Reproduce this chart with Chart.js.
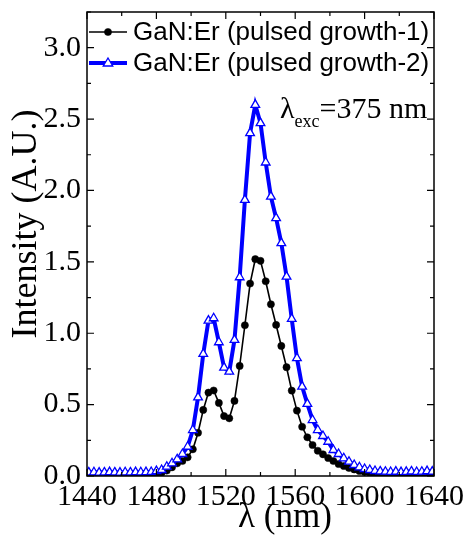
<!DOCTYPE html>
<html>
<head>
<meta charset="utf-8">
<script src="https://cdn.jsdelivr.net/npm/chart.js@4/dist/chart.umd.min.js"></script>
<style>
  body { margin: 0; background: #fff; }
  canvas { display: block; }
</style>
</head>
<body>
<canvas id="plChart" width="464" height="537"></canvas>
<script>
// Longueurs d'onde (nm)
const wavelengths = [1441, 1444, 1447, 1450, 1453, 1456, 1459, 1462, 1465, 1468, 1471, 1474, 1477, 1480,
  1483, 1486, 1489, 1492, 1495, 1498, 1501, 1504, 1507, 1510, 1513, 1516, 1519, 1522, 1525, 1528,
  1531, 1534, 1537, 1540, 1543, 1546, 1549, 1552, 1555, 1558, 1561, 1564, 1567, 1570, 1573, 1576,
  1579, 1582, 1585, 1588, 1591, 1594, 1597, 1600, 1603, 1606, 1609, 1612, 1615, 1618, 1621, 1624,
  1627, 1630, 1633, 1636, 1639];

// Intensité - croissance pulsée 1
const growth1 = [0.005, 0.006, 0.004, 0.005, 0.006, 0.005, 0.004, 0.006, 0.005, 0.007, 0.006, 0.007, 0.008, 0.012,
  0.023, 0.038, 0.061, 0.089, 0.105, 0.131, 0.187, 0.303, 0.463, 0.584, 0.599, 0.512, 0.420, 0.404, 0.526, 0.771,
  1.056, 1.348, 1.519, 1.507, 1.364, 1.203, 1.058, 0.911, 0.762, 0.598, 0.458, 0.345, 0.271, 0.217, 0.177, 0.152,
  0.126, 0.105, 0.084, 0.070, 0.056, 0.046, 0.035, 0.028, 0.021, 0.014, 0.010, 0.008, 0.007, 0.006, 0.006, 0.005,
  0.005, 0.004, 0.004, 0.004, 0.003];

// Intensité - croissance pulsée 2
const growth2 = [0.025, 0.026, 0.024, 0.025, 0.027, 0.025, 0.024, 0.026, 0.025, 0.027, 0.026, 0.027, 0.028, 0.034,
  0.042, 0.065, 0.089, 0.117, 0.154, 0.205, 0.322, 0.551, 0.855, 1.088, 1.105, 0.937, 0.759, 0.731, 0.953, 1.392,
  1.934, 2.402, 2.600, 2.472, 2.196, 1.957, 1.806, 1.631, 1.397, 1.100, 0.825, 0.626, 0.505, 0.392, 0.322, 0.280,
  0.240, 0.182, 0.154, 0.124, 0.100, 0.077, 0.061, 0.049, 0.042, 0.035, 0.032, 0.030, 0.028, 0.031, 0.027, 0.029,
  0.032, 0.028, 0.030, 0.034, 0.031];

const seriesLabels = ["GaN:Er (pulsed growth-1)", "GaN:Er (pulsed growth-2)"];
const xTicks = [1440, 1480, 1520, 1560, 1600, 1640];
const yTicks = [0, 0.5, 1.0, 1.5, 2.0, 2.5, 3.0];

const BLUE = "#0000ff";
const serif = "'Liberation Serif', 'DejaVu Serif', serif";
const sans = "'Liberation Sans', Arial, sans-serif";

function toPoints(ys) {
  return wavelengths.map((x, i) => ({ x: x, y: ys[i] }));
}

// Cadre, graduations internes, titres, légende et annotation
const decorations = {
  id: "decorations",
  afterDraw(chart) {
    const ctx = chart.ctx;
    const a = chart.chartArea;
    const xs = chart.scales.x, ys = chart.scales.y;
    ctx.save();
    ctx.strokeStyle = "#000";
    ctx.lineWidth = 1.5;
    ctx.strokeRect(a.left, a.top, a.right - a.left, a.bottom - a.top);

    ctx.lineWidth = 1.2;
    ctx.beginPath();
    for (let v = 1440; v <= 1640; v += 20) {
      const px = xs.getPixelForValue(v);
      const len = (v % 40 === 0) ? 7 : 4;
      ctx.moveTo(px, a.bottom); ctx.lineTo(px, a.bottom - len);
      ctx.moveTo(px, a.top); ctx.lineTo(px, a.top + len);
    }
    for (let v = 0; v <= 3.25001; v += 0.25) {
      const py = ys.getPixelForValue(v);
      const len = (Math.round(v * 4) % 2 === 0) ? 7 : 4;
      ctx.moveTo(a.left, py); ctx.lineTo(a.left + len, py);
      ctx.moveTo(a.right, py); ctx.lineTo(a.right - len, py);
    }
    ctx.stroke();

    // Titres des axes
    ctx.fillStyle = "#000";
    ctx.font = "35px " + serif;
    ctx.textAlign = "center";
    ctx.textBaseline = "middle";
    ctx.fillText("λ (nm)", 285, 518);
    ctx.save();
    ctx.translate(27, 224);
    ctx.rotate(-Math.PI / 2);
    ctx.font = "36px " + serif;
    ctx.fillText("Intensity (A.U.)", 0, 0);
    ctx.restore();

    // Annotation λexc=375 nm
    ctx.textAlign = "left";
    ctx.textBaseline = "alphabetic";
    let x = 280;
    ctx.font = "30px " + serif;
    ctx.fillText("λ", x, 118);
    x += ctx.measureText("λ").width;
    ctx.font = "18px " + serif;
    ctx.fillText("exc", x, 127);
    x += ctx.measureText("exc").width;
    ctx.font = "30px " + serif;
    ctx.fillText("=375 nm", x, 118);

    // Légende
    const rows = [{ y: 32, ds: 0 }, { y: 63, ds: 1 }];
    rows.forEach(r => {
      const d = chart.data.datasets[r.ds];
      ctx.strokeStyle = d.borderColor;
      ctx.lineWidth = d.borderWidth;
      ctx.beginPath();
      ctx.moveTo(89, r.y); ctx.lineTo(127, r.y);
      ctx.stroke();
      ctx.fillStyle = d.pointBackgroundColor;
      ctx.strokeStyle = d.pointBorderColor;
      ctx.lineWidth = d.pointBorderWidth;
      ctx.beginPath();
      if (d.pointStyle === "triangle") {
        const rr = d.pointRadius;
        ctx.moveTo(108, r.y - rr);
        ctx.lineTo(108 + rr * 0.95, r.y + rr * 0.6);
        ctx.lineTo(108 - rr * 0.95, r.y + rr * 0.6);
        ctx.closePath();
      } else {
        ctx.arc(108, r.y, d.pointRadius, 0, Math.PI * 2);
      }
      ctx.fill();
      ctx.stroke();
      ctx.fillStyle = "#000";
      ctx.font = "26px " + sans;
      ctx.textBaseline = "middle";
      ctx.fillText(d.label, 133, r.y + 1);
    });
    ctx.restore();
  }
};

new Chart(document.getElementById("plChart"), {
  type: "line",
  data: {
    datasets: [
      {
        label: seriesLabels[0],
        data: toPoints(growth1),
        borderColor: "#000",
        borderWidth: 1.6,
        pointStyle: "circle",
        pointRadius: 3.6,
        pointBorderWidth: 0.5,
        pointBackgroundColor: "#000",
        pointBorderColor: "#000",
        tension: 0,
        order: 2
      },
      {
        label: seriesLabels[1],
        data: toPoints(growth2),
        borderColor: BLUE,
        borderWidth: 4,
        pointStyle: "triangle",
        pointRadius: 5,
        pointBorderWidth: 1.3,
        pointBackgroundColor: "#fff",
        pointBorderColor: BLUE,
        tension: 0,
        order: 1
      }
    ]
  },
  options: {
    responsive: false,
    devicePixelRatio: 1,
    animation: false,
    layout: { padding: { top: 12, right: 30, left: 0, bottom: 0 } },
    plugins: { legend: { display: false }, tooltip: { enabled: false } },
    scales: {
      x: {
        type: "linear",
        min: 1440,
        max: 1640,
        afterFit(scale) {
          scale.height = 61;
          scale.paddingLeft = 0;
          scale.paddingRight = 0;
        },
        afterBuildTicks(scale) { scale.ticks = xTicks.map(v => ({ value: v })); },
        grid: { display: false, drawTicks: false },
        border: { display: false },
        ticks: {
          color: "#000",
          font: { family: serif, size: 30 },
          padding: 3,
          maxRotation: 0,
          autoSkip: false,
          callback: v => String(v)
        }
      },
      y: {
        min: 0,
        max: 3.25,
        afterFit(scale) {
          scale.width = 87;
          scale.paddingTop = 0;
          scale.paddingBottom = 0;
        },
        afterBuildTicks(scale) { scale.ticks = yTicks.map(v => ({ value: v })); },
        grid: { display: false, drawTicks: false },
        border: { display: false },
        ticks: {
          color: "#000",
          font: { family: serif, size: 30 },
          padding: 6,
          callback: v => v.toFixed(1)
        }
      }
    }
  },
  plugins: [decorations]
});
</script>
</body>
</html>
